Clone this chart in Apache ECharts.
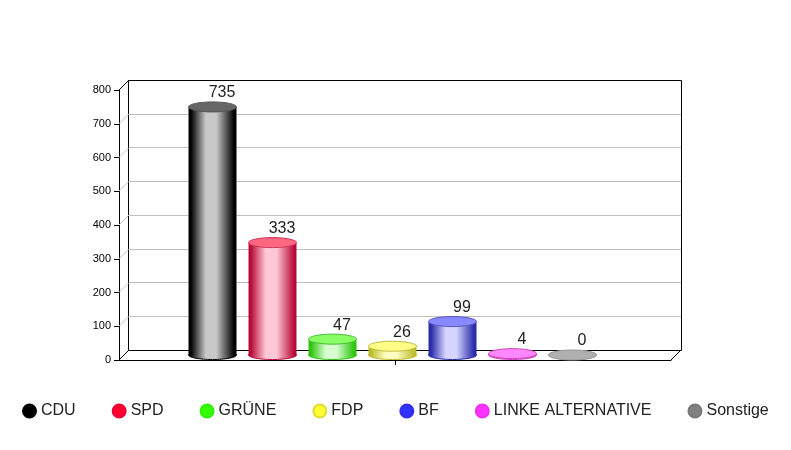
<!DOCTYPE html>
<html>
<head>
<meta charset="utf-8">
<style>html,body{margin:0;padding:0;background:#fff}#c{width:791px;height:450px}</style>
<script src="https://cdn.jsdelivr.net/npm/echarts@6/dist/echarts.min.js"></script>
</head>
<body>
<div id="c"></div>
<script>
const categories = ["CDU","SPD","GRÜNE","FDP","BF","LINKE ALTERNATIVE","Sonstige"];
const values = [735,333,47,26,99,4,0];
const legendColors = ["#000000","#ff0033","#33ff00","#ffff33","#3333ff","#ff33ff","#808080"];
const legendBorders = ["#000000","#f00030","#30f000","#dddd33","#3030f0","#f030f0","#787878"];
const edgeColors = ["#000000","#b80a36","#2fc40f","#bcbc2c","#2a2aaa","#d040d0","#909090"];
const centerColors = ["#c8c8c8","#ffc8d8","#d8ffd0","#ffffc4","#d4d4ff","#ffa0ff","#c0c0c0"];
const topColors = ["#666666","#ff6680","#88ff66","#ffff88","#8888ff","#ff88ff","#b0b0b0"];
const rimColors = ["#555555","#cc3355","#44bb33","#bbbb44","#5555bb","#cc44aa","#999999"];
const yTicks = [0,100,200,300,400,500,600,700,800];
const font = '"Liberation Sans", Arial, sans-serif';

const chart = echarts.init(document.getElementById('c'), null, {renderer:'canvas'});

function grad(i){
  return new echarts.graphic.LinearGradient(0,0,1,0,[
    {offset:0,color:edgeColors[i]},
    {offset:0.05,color:edgeColors[i]},
    {offset:0.36,color:centerColors[i]},
    {offset:0.58,color:centerColors[i]},
    {offset:0.95,color:edgeColors[i]},
    {offset:1,color:edgeColors[i]}
  ]);
}

function cylinder(i){
  return function(params, api){
    const p = api.coord([api.value(0),0]);
    const cx = p[0]+0.5;
    const base = p[1];
    const top = api.coord([api.value(0),api.value(1)])[1];
    const r = 24, ry = 5;
    return {type:'group',children:[
      {type:'ellipse',shape:{cx:cx,cy:base,rx:r,ry:ry-0.5},style:{fill:grad(i),stroke:edgeColors[i],lineWidth:1}},
      {type:'rect',shape:{x:cx-r,y:top,width:r*2,height:base-top},style:{fill:grad(i)}},
      {type:'ellipse',shape:{cx:cx,cy:top,rx:r,ry:ry},style:{fill:topColors[i],stroke:rimColors[i],lineWidth:1}},
      {type:'text',x:cx+9.5,y:top-14,style:{text:String(values[i]),font:'16px '+font,fill:'#222',align:'center',verticalAlign:'middle'}}
    ]};
  };
}

const partySeries = categories.map((name,i)=>({
  name:name,type:'custom',xAxisIndex:2,yAxisIndex:2,z:5,silent:true,
  itemStyle:{color:legendColors[i],borderColor:legendBorders[i],borderWidth:1},
  data:[[name,values[i]]],
  renderItem:cylinder(i),
  clip:false
}));

const depthSeries = {
  type:'custom',xAxisIndex:3,yAxisIndex:3,z:3,silent:true,clip:false,
  data:yTicks.map(v=>[0,v]),
  renderItem:function(params,api){
    const cs = params.coordSys;
    const v = api.value(1);
    const y = api.coord([0,v])[1];
    const end = v===0||v===800;
    const children = [{type:'line',shape:{x1:cs.x,y1:y,x2:cs.x-10,y2:y+10},
      style:{stroke:end?'#000':'#c4c4c4',lineWidth:1}}];
    if(v===0){
      children.push({type:'line',shape:{x1:cs.x+cs.width,y1:y,x2:cs.x+cs.width-10,y2:y+10},
        style:{stroke:'#000',lineWidth:1}});
    }
    return {type:'group',children:children};
  }
};

chart.setOption({
  animation:false,
  backgroundColor:'#ffffff',
  legend:{
    left:17,top:398,itemWidth:13,itemHeight:13,itemGap:36,icon:'circle',
    textStyle:{fontFamily:font,fontSize:16,color:'#222',padding:[1,0,0,0]},
    data:categories,selectedMode:false
  },
  grid:[
    {left:119,top:90,width:552,height:270},
    {left:128.5,top:80.5,width:553,height:270,show:true,borderColor:'#000',borderWidth:1,backgroundColor:'transparent'},
    {left:182,top:85,width:420,height:270},
    {left:129,top:80,width:552,height:270}
  ],
  xAxis:[
    {gridIndex:0,type:'category',data:[''],axisLine:{show:true,lineStyle:{color:'#000'}},
     axisTick:{show:true,alignWithLabel:true,length:5,lineStyle:{color:'#000'}},axisLabel:{show:false}},
    {gridIndex:1,type:'value',min:0,max:1,show:false},
    {gridIndex:2,type:'category',data:categories,show:false},
    {gridIndex:3,type:'value',min:0,max:1,show:false}
  ],
  yAxis:[
    {gridIndex:0,type:'value',min:0,max:800,interval:100,
     axisLine:{show:true,lineStyle:{color:'#000'}},
     axisTick:{show:true,length:5,lineStyle:{color:'#000'}},
     axisLabel:{margin:8,fontFamily:font,fontSize:11,color:'#000'},
     splitLine:{show:false}},
    {gridIndex:1,type:'value',min:0,max:800,interval:100,
     axisLine:{show:false},axisTick:{show:false},axisLabel:{show:false},splitLine:{show:false}},
    {gridIndex:2,type:'value',min:0,max:800,interval:100,show:false},
    {gridIndex:3,type:'value',min:0,max:800,interval:100,
     axisLine:{show:false},axisTick:{show:false},axisLabel:{show:false},
     splitLine:{show:true,showMinLine:false,showMaxLine:false,lineStyle:{color:'#c0c0c0',width:1}}}
  ],
  series:[depthSeries].concat(partySeries)
});
</script>
</body>
</html>
